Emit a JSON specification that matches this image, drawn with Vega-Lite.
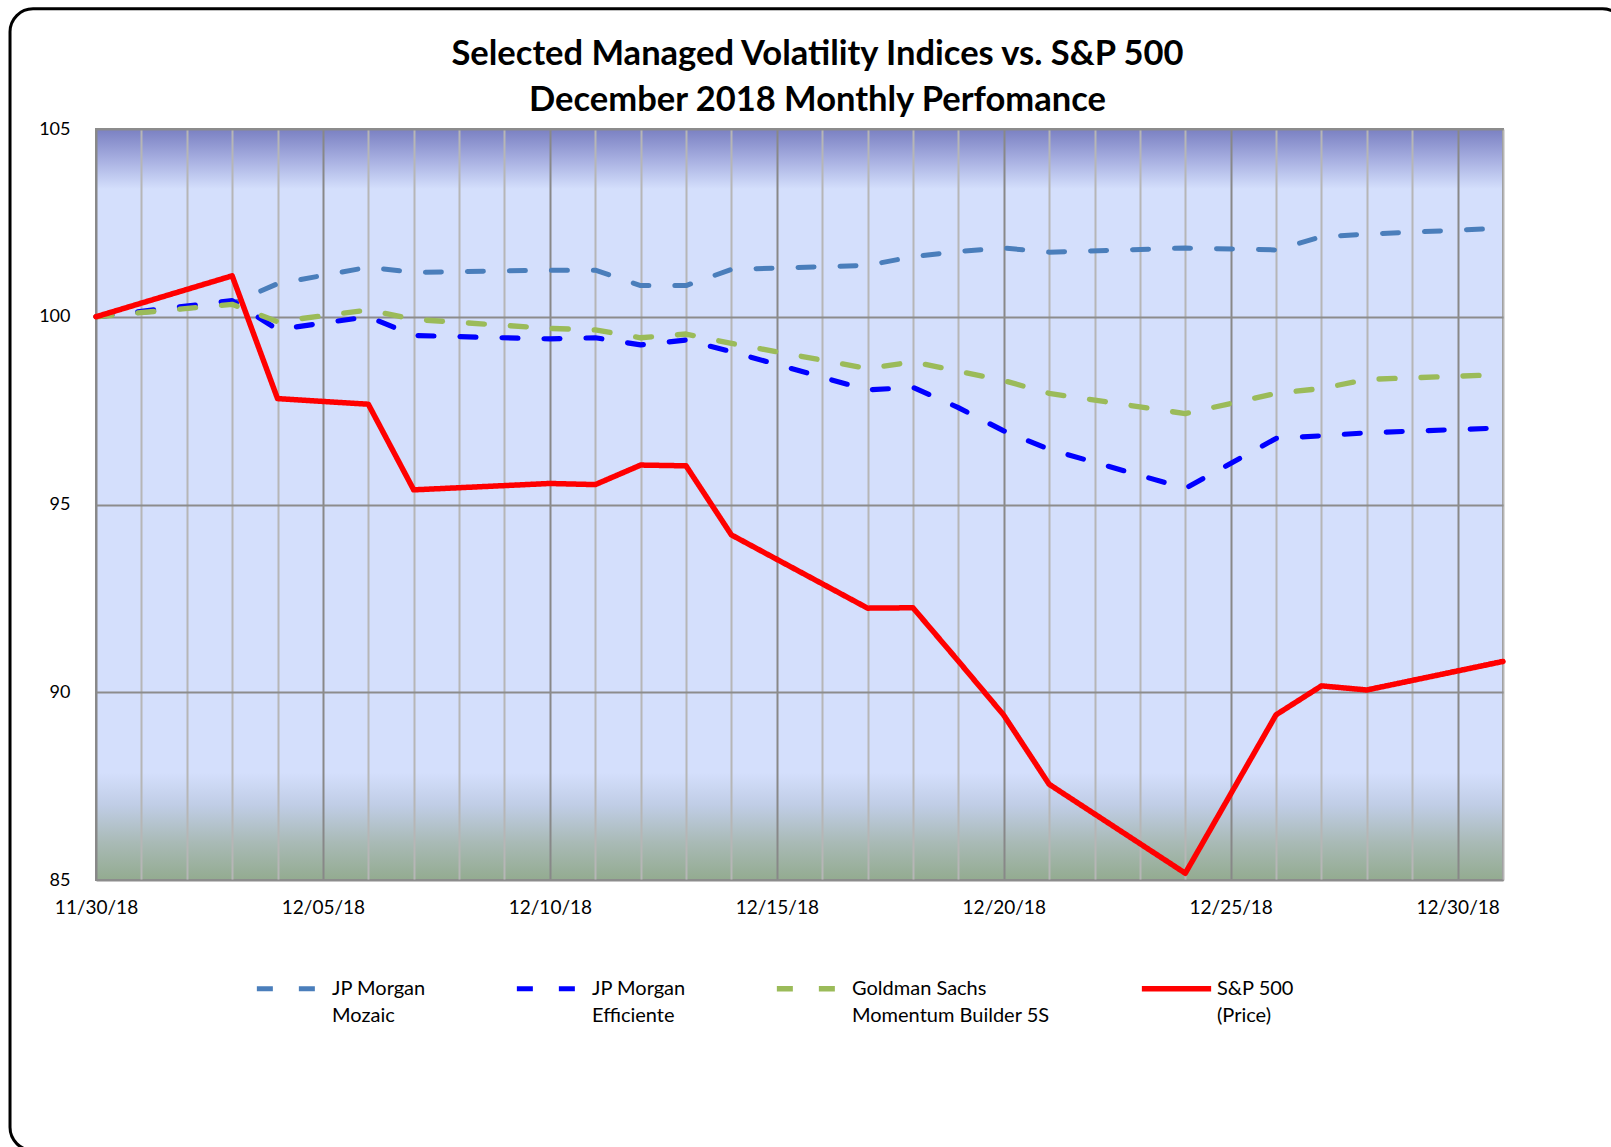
{
  "$schema": "https://vega.github.io/schema/vega-lite/v6.json",
  "width": 1407,
  "height": 751,
  "autosize": {"type": "none"},
  "padding": {"left": 96, "top": 129, "right": 108, "bottom": 267},
  "background": "white",
  "title": {
    "text": ["Selected Managed Volatility Indices vs. S&P 500", "December 2018 Monthly Perfomance"],
    "font": "Lato",
    "fontSize": 34.5,
    "fontWeight": "bold",
    "lineHeight": 46,
    "color": "#000000",
    "anchor": "middle",
    "frame": "group",
    "dx": 18,
    "dy": 111,
    "offset": 0
  },
  "view": {
    "fill": {
      "gradient": "linear",
      "x1": 0, "y1": 0, "x2": 0, "y2": 1,
      "stops": [
        {"offset": 0, "color": "#7A80C2"},
        {"offset": 0.04, "color": "#A6AEE0"},
        {"offset": 0.08, "color": "#D4DFFC"},
        {"offset": 0.857, "color": "#D4DFFC"},
        {"offset": 0.9, "color": "#C0CDE6"},
        {"offset": 0.95, "color": "#A9BAB6"},
        {"offset": 1, "color": "#93AB90"}
      ]
    },
    "stroke": "#8C8C8C",
    "strokeWidth": 2
  },
  "config": {
    "style": {"guide-label": {"lineHeight": 27}}
  },
  "layer": [
    {
      "data": {"values": [
        {"date": "2018-11-30", "series": "JP Morgan Mozaic", "value": 100},
        {"date": "2018-12-03", "series": "JP Morgan Mozaic", "value": 100.35},
        {"date": "2018-12-04", "series": "JP Morgan Mozaic", "value": 100.88},
        {"date": "2018-12-06", "series": "JP Morgan Mozaic", "value": 101.32},
        {"date": "2018-12-07", "series": "JP Morgan Mozaic", "value": 101.18},
        {"date": "2018-12-10", "series": "JP Morgan Mozaic", "value": 101.24},
        {"date": "2018-12-11", "series": "JP Morgan Mozaic", "value": 101.24},
        {"date": "2018-12-12", "series": "JP Morgan Mozaic", "value": 100.83},
        {"date": "2018-12-13", "series": "JP Morgan Mozaic", "value": 100.83},
        {"date": "2018-12-14", "series": "JP Morgan Mozaic", "value": 101.26},
        {"date": "2018-12-17", "series": "JP Morgan Mozaic", "value": 101.37},
        {"date": "2018-12-18", "series": "JP Morgan Mozaic", "value": 101.6},
        {"date": "2018-12-19", "series": "JP Morgan Mozaic", "value": 101.74},
        {"date": "2018-12-20", "series": "JP Morgan Mozaic", "value": 101.83},
        {"date": "2018-12-21", "series": "JP Morgan Mozaic", "value": 101.72},
        {"date": "2018-12-24", "series": "JP Morgan Mozaic", "value": 101.83},
        {"date": "2018-12-26", "series": "JP Morgan Mozaic", "value": 101.78},
        {"date": "2018-12-27", "series": "JP Morgan Mozaic", "value": 102.13},
        {"date": "2018-12-28", "series": "JP Morgan Mozaic", "value": 102.2},
        {"date": "2018-12-31", "series": "JP Morgan Mozaic", "value": 102.36},
        {"date": "2018-11-30", "series": "JP Morgan Efficiente", "value": 100},
        {"date": "2018-12-03", "series": "JP Morgan Efficiente", "value": 100.43},
        {"date": "2018-12-04", "series": "JP Morgan Efficiente", "value": 99.66},
        {"date": "2018-12-06", "series": "JP Morgan Efficiente", "value": 100.0},
        {"date": "2018-12-07", "series": "JP Morgan Efficiente", "value": 99.5},
        {"date": "2018-12-10", "series": "JP Morgan Efficiente", "value": 99.41},
        {"date": "2018-12-11", "series": "JP Morgan Efficiente", "value": 99.44},
        {"date": "2018-12-12", "series": "JP Morgan Efficiente", "value": 99.25},
        {"date": "2018-12-13", "series": "JP Morgan Efficiente", "value": 99.38},
        {"date": "2018-12-14", "series": "JP Morgan Efficiente", "value": 99.07},
        {"date": "2018-12-17", "series": "JP Morgan Efficiente", "value": 98.05},
        {"date": "2018-12-18", "series": "JP Morgan Efficiente", "value": 98.12},
        {"date": "2018-12-19", "series": "JP Morgan Efficiente", "value": 97.58},
        {"date": "2018-12-20", "series": "JP Morgan Efficiente", "value": 96.96},
        {"date": "2018-12-21", "series": "JP Morgan Efficiente", "value": 96.47},
        {"date": "2018-12-24", "series": "JP Morgan Efficiente", "value": 95.43},
        {"date": "2018-12-26", "series": "JP Morgan Efficiente", "value": 96.76},
        {"date": "2018-12-27", "series": "JP Morgan Efficiente", "value": 96.83},
        {"date": "2018-12-28", "series": "JP Morgan Efficiente", "value": 96.91},
        {"date": "2018-12-31", "series": "JP Morgan Efficiente", "value": 97.04},
        {"date": "2018-11-30", "series": "Goldman Sachs Momentum Builder 5S", "value": 100},
        {"date": "2018-12-03", "series": "Goldman Sachs Momentum Builder 5S", "value": 100.33},
        {"date": "2018-12-04", "series": "Goldman Sachs Momentum Builder 5S", "value": 99.87},
        {"date": "2018-12-06", "series": "Goldman Sachs Momentum Builder 5S", "value": 100.18},
        {"date": "2018-12-07", "series": "Goldman Sachs Momentum Builder 5S", "value": 99.93},
        {"date": "2018-12-10", "series": "Goldman Sachs Momentum Builder 5S", "value": 99.69},
        {"date": "2018-12-11", "series": "Goldman Sachs Momentum Builder 5S", "value": 99.65},
        {"date": "2018-12-12", "series": "Goldman Sachs Momentum Builder 5S", "value": 99.44},
        {"date": "2018-12-13", "series": "Goldman Sachs Momentum Builder 5S", "value": 99.54},
        {"date": "2018-12-14", "series": "Goldman Sachs Momentum Builder 5S", "value": 99.29},
        {"date": "2018-12-17", "series": "Goldman Sachs Momentum Builder 5S", "value": 98.62},
        {"date": "2018-12-18", "series": "Goldman Sachs Momentum Builder 5S", "value": 98.8},
        {"date": "2018-12-19", "series": "Goldman Sachs Momentum Builder 5S", "value": 98.55},
        {"date": "2018-12-20", "series": "Goldman Sachs Momentum Builder 5S", "value": 98.3},
        {"date": "2018-12-21", "series": "Goldman Sachs Momentum Builder 5S", "value": 97.96},
        {"date": "2018-12-24", "series": "Goldman Sachs Momentum Builder 5S", "value": 97.42},
        {"date": "2018-12-26", "series": "Goldman Sachs Momentum Builder 5S", "value": 97.96},
        {"date": "2018-12-27", "series": "Goldman Sachs Momentum Builder 5S", "value": 98.09},
        {"date": "2018-12-28", "series": "Goldman Sachs Momentum Builder 5S", "value": 98.33},
        {"date": "2018-12-31", "series": "Goldman Sachs Momentum Builder 5S", "value": 98.46},
        {"date": "2018-11-30", "series": "S&P 500 (Price)", "value": 100},
        {"date": "2018-12-03", "series": "S&P 500 (Price)", "value": 101.09},
        {"date": "2018-12-04", "series": "S&P 500 (Price)", "value": 97.82},
        {"date": "2018-12-06", "series": "S&P 500 (Price)", "value": 97.67},
        {"date": "2018-12-07", "series": "S&P 500 (Price)", "value": 95.39},
        {"date": "2018-12-10", "series": "S&P 500 (Price)", "value": 95.56},
        {"date": "2018-12-11", "series": "S&P 500 (Price)", "value": 95.53},
        {"date": "2018-12-12", "series": "S&P 500 (Price)", "value": 96.05},
        {"date": "2018-12-13", "series": "S&P 500 (Price)", "value": 96.03},
        {"date": "2018-12-14", "series": "S&P 500 (Price)", "value": 94.19},
        {"date": "2018-12-17", "series": "S&P 500 (Price)", "value": 92.24},
        {"date": "2018-12-18", "series": "S&P 500 (Price)", "value": 92.25},
        {"date": "2018-12-19", "series": "S&P 500 (Price)", "value": 90.83},
        {"date": "2018-12-20", "series": "S&P 500 (Price)", "value": 89.39},
        {"date": "2018-12-21", "series": "S&P 500 (Price)", "value": 87.55},
        {"date": "2018-12-24", "series": "S&P 500 (Price)", "value": 85.18},
        {"date": "2018-12-26", "series": "S&P 500 (Price)", "value": 89.4},
        {"date": "2018-12-27", "series": "S&P 500 (Price)", "value": 90.17},
        {"date": "2018-12-28", "series": "S&P 500 (Price)", "value": 90.06},
        {"date": "2018-12-31", "series": "S&P 500 (Price)", "value": 90.82}
      ]},
      "mark": {"type": "line", "strokeCap": "round", "strokeJoin": "round"},
      "encoding": {
        "x": {
          "field": "date",
          "type": "temporal",
          "scale": {
            "type": "utc",
            "domain": [
              {"year": 2018, "month": 11, "date": 30, "utc": true},
              {"year": 2018, "month": 12, "date": 31, "utc": true}
            ],
            "nice": false
          },
          "axis": {
            "title": null,
            "tickCount": {"interval": "day", "step": 1},
            "labelExpr": "utcdate(datum.value) % 5 === 0 ? utcFormat(datum.value, '%m/%d/%y') : ''",
            "labelOverlap": false,
            "labelFlush": false,
            "labelFont": "Lato",
            "labelFontSize": 19,
            "labelColor": "#000000",
            "labelPadding": 18,
            "ticks": false,
            "domain": false,
            "grid": true,
            "gridWidth": 2,
            "gridOpacity": 1,
            "gridColor": {"condition": {"test": "utcdate(datum.value) % 5 === 0", "value": "#888888"}, "value": "#B6B6B6"}
          }
        },
        "y": {
          "field": "value",
          "type": "quantitative",
          "scale": {"domain": [85, 105], "nice": false, "zero": false},
          "axis": {
            "title": null,
            "values": [85, 90, 95, 100, 105],
            "labelFont": "Lato",
            "labelFontSize": 18,
            "labelColor": "#000000",
            "labelPadding": 26,
            "ticks": false,
            "domain": false,
            "grid": true,
            "gridWidth": 2,
            "gridOpacity": 1,
            "gridColor": "#8C8C8C"
          }
        },
        "color": {
          "field": "series",
          "type": "nominal",
          "scale": {
            "domain": ["JP Morgan Mozaic", "JP Morgan Efficiente", "Goldman Sachs Momentum Builder 5S", "S&P 500 (Price)"],
            "range": ["#4A7EBB", "#0000FF", "#9BBB59", "#FF0000"]
          },
          "legend": {
            "orient": "none",
            "legendX": 158,
            "legendY": 822,
            "direction": "horizontal",
            "columns": 4,
            "title": null,
            "padding": 0,
            "symbolType": "stroke",
            "symbolSize": 4800,
            "symbolStrokeWidth": 5,
            "labelFont": "Lato",
            "labelFontSize": 20,
            "labelColor": "#000000",
            "labelOffset": 3,
            "labelLimit": 400,
            "columnPadding": 80,
            "labelExpr": "datum.label == 'JP Morgan Mozaic' ? ['JP Morgan', 'Mozaic'] : datum.label == 'JP Morgan Efficiente' ? ['JP Morgan', 'Efficiente'] : datum.label == 'Goldman Sachs Momentum Builder 5S' ? ['Goldman Sachs', 'Momentum Builder 5S'] : ['S&P 500', '(Price)']"
          }
        },
        "strokeDash": {
          "field": "series",
          "type": "nominal",
          "scale": {
            "domain": ["JP Morgan Mozaic", "JP Morgan Efficiente", "Goldman Sachs Momentum Builder 5S", "S&P 500 (Price)"],
            "range": [[16, 26], [16, 26], [16, 26], [1, 0]]
          },
          "legend": {
            "orient": "none",
            "legendX": 158,
            "legendY": 822,
            "direction": "horizontal",
            "columns": 4,
            "title": null,
            "padding": 0,
            "symbolType": "stroke",
            "symbolSize": 4800,
            "symbolStrokeWidth": 5,
            "labelFont": "Lato",
            "labelFontSize": 20,
            "labelColor": "#000000",
            "labelOffset": 3,
            "labelLimit": 400,
            "columnPadding": 80,
            "labelExpr": "datum.label == 'JP Morgan Mozaic' ? ['JP Morgan', 'Mozaic'] : datum.label == 'JP Morgan Efficiente' ? ['JP Morgan', 'Efficiente'] : datum.label == 'Goldman Sachs Momentum Builder 5S' ? ['Goldman Sachs', 'Momentum Builder 5S'] : ['S&P 500', '(Price)']"
          }
        },
        "strokeWidth": {
          "field": "series",
          "type": "nominal",
          "scale": {
            "domain": ["JP Morgan Mozaic", "JP Morgan Efficiente", "Goldman Sachs Momentum Builder 5S", "S&P 500 (Price)"],
            "range": [5, 5.5, 5, 6]
          },
          "legend": null
        }
      }
    },
    {
      "data": {"values": [{}]},
      "mark": {"type": "rect", "fill": "transparent", "stroke": "#000000", "strokeWidth": 3, "cornerRadius": 23, "clip": false},
      "encoding": {
        "x": {"datum": {"year": 2018, "month": 11, "date": 28, "hours": 2, "minutes": 32, "utc": true}, "type": "temporal"},
        "x2": {"datum": {"year": 2019, "month": 1, "date": 2, "hours": 16, "minutes": 48, "utc": true}},
        "y": {"datum": 108.2, "type": "quantitative"},
        "y2": {"datum": 77.8}
      }
    }
  ]
}
